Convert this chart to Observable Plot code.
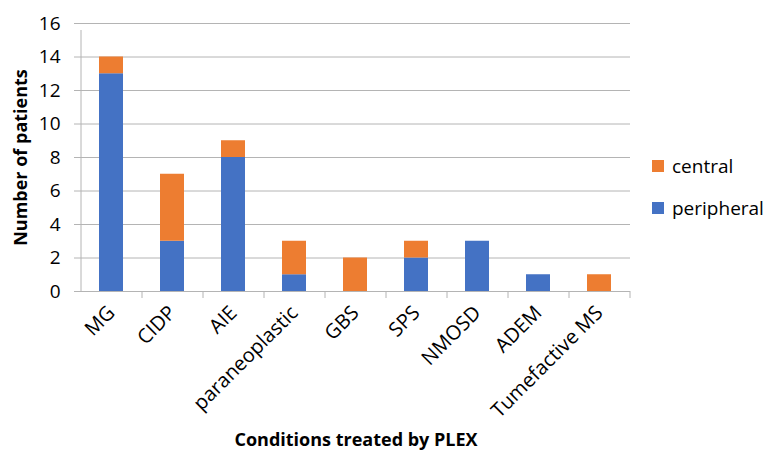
<!DOCTYPE html>
<html>
<head>
<meta charset="utf-8">
<script src="https://cdn.jsdelivr.net/npm/d3@7"></script>
<script src="https://cdn.jsdelivr.net/npm/@observablehq/plot@0.6"></script>
<style>
  body { margin: 0; background: #fff; }
  #chart { position: relative; width: 769px; height: 457px; }
</style>
</head>
<body>
<div id="chart"></div>
<script>
const categories = ["MG", "CIDP", "AIE", "paraneoplastic", "GBS", "SPS", "NMOSD", "ADEM", "Tumefactive MS"];
const peripheral = [13, 3, 8, 1, 0, 2, 3, 1, 0];
const central    = [1, 4, 1, 2, 2, 1, 0, 0, 1];
const seriesNames = ["peripheral", "central"];
const seriesColors = ["#4472C4", "#ED7D31"];
const yTicks = [0, 2, 4, 6, 8, 10, 12, 14, 16];

const data = [];
categories.forEach((c, i) => {
  data.push({cat: c, series: "peripheral", value: peripheral[i]});
  data.push({cat: c, series: "central", value: central[i]});
});

const FONT = "'Open Sans', 'Noto Sans', sans-serif";
const W = 769, H = 457;
const mL = 81, mR = 139, mT = 23, mB = 166;
const step = (W - mL - mR) / categories.length;
const gridColor = "#b4b4b4";
const TICK_FS = 19;

const chart = Plot.plot({
  width: W, height: H,
  marginLeft: mL, marginRight: mR, marginTop: mT, marginBottom: mB,
  style: {fontFamily: FONT, fontSize: TICK_FS + "px", color: "#000", background: "#fff"},
  x: {domain: categories, paddingInner: 0.6, paddingOuter: 0.3, label: null},
  y: {domain: [0, 16], ticks: yTicks, label: null},
  color: {domain: seriesNames, range: seriesColors},
  marks: [
    Plot.ruleY(yTicks, {y: d => d, stroke: gridColor, strokeWidth: 1, insetLeft: -7}),
    Plot.ruleX(categories, {x: d => d, dx: -step / 2, y1: 0, y2: 16, stroke: gridColor, insetBottom: -7, filter: (d, i) => i === 0}),
    Plot.ruleX(categories, {x: d => d, dx: -step / 2, y1: 0, y2: 0, stroke: gridColor, insetBottom: -7, filter: (d, i) => i > 0}),
    Plot.ruleX(categories.slice(-1), {x: d => d, dx: step / 2, y1: 0, y2: 0, stroke: gridColor, insetBottom: -7}),
    Plot.barY(data, Plot.stackY({x: "cat", y: "value", fill: "series", order: seriesNames})),
    Plot.axisY({ticks: yTicks, tickSize: 0, tickPadding: 21, fontSize: TICK_FS, label: null}),
    Plot.axisX({tickSize: 0, tickRotate: -45, tickPadding: 18, fontSize: 20, label: null}),
    Plot.text(["Number of patients"], {frameAnchor: "left", textAnchor: "middle", dx: -60, rotate: -90, fontWeight: "bold", fontSize: 18}),
    Plot.text(["Conditions treated by PLEX"], {frameAnchor: "bottom", textAnchor: "middle", dy: 154, fontWeight: "bold", fontSize: 18})
  ]
});

const svg = d3.select(chart);
const legendX = 652;
const legendItems = [{name: "central", cy: 166}, {name: "peripheral", cy: 208}];
legendItems.forEach(it => {
  const col = seriesColors[seriesNames.indexOf(it.name)];
  svg.append("rect").attr("x", legendX).attr("y", it.cy - 6).attr("width", 12).attr("height", 12).attr("fill", col);
  svg.append("text").attr("x", legendX + 20).attr("y", it.cy).attr("dy", "0.35em")
    .attr("text-anchor", "start").attr("font-family", FONT)
    .attr("font-size", TICK_FS).attr("fill", "#000").text(it.name);
});

document.getElementById("chart").appendChild(chart);
</script>
</body>
</html>
